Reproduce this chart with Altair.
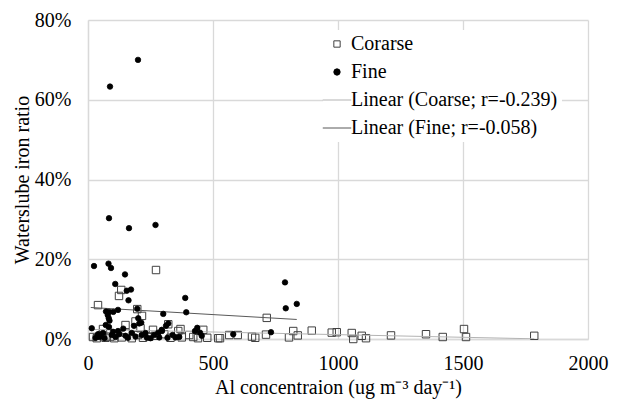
import altair as alt
import pandas as pd

# ---- data (x: Al concentration, y: ratio in %) ----
fine_x = [88, 200, 84, 164, 270, 24, 82, 92, 148, 109, 155, 172, 162, 389, 393, 301,
          788, 791, 835, 72, 84, 101, 120, 197, 79, 83, 201, 86, 205, 213, 321, 312,
          184, 71, 84, 15, 141, 437, 428, 448, 295, 281, 296, 40, 50, 60, 30, 45, 66,
          95, 110, 125, 150, 160, 175, 190, 215, 235, 250, 285, 318, 338, 350, 365,
          455, 581, 732, 100, 120, 230, 265]
fine_y = [63.3, 70.0, 30.3, 27.8, 28.6, 18.3, 18.9, 17.8, 16.2, 13.8, 12.1, 12.4, 9.7,
          10.3, 6.7, 6.3, 14.2, 7.7, 8.8, 6.9, 6.8, 6.8, 7.3, 7.6, 6.0, 5.2, 5.2, 4.6,
          3.9, 4.1, 3.9, 3.3, 3.3, 3.5, 3.0, 2.7, 2.6, 2.8, 2.0, 1.6, 2.3, 1.6, 2.0, 1.2,
          0.8, 1.5, 0.3, 0.5, 0.2, 1.0, 0.5, 1.2, 0.8, 0.3, 1.5, 0.6, 1.0, 0.4, 0.2, 0.4,
          0.3, 1.0, 0.4, 0.5, 0.8, 1.2, 1.7, 1.8, 2.0, 1.5, 1.0]

coarse_x = [272, 40, 133, 124, 197, 216, 190, 715, 260, 268, 321, 361, 405, 421, 461,
            477, 521, 528, 565, 599, 656, 669, 712, 821, 804, 839, 895, 975, 995, 1055,
            1061, 1095, 1112, 1212, 1352, 1419, 1504, 1512, 1785, 20, 35, 55, 70, 90,
            105, 135, 150, 175, 200, 220, 245, 305, 330, 375, 440, 60, 150, 210, 370]
coarse_y = [17.3, 8.5, 12.3, 10.8, 7.5, 5.8, 4.4, 5.3, 2.3, 0.8, 3.7, 2.0, 1.0, 0.5, 2.3,
            0.3, 0.2, 0.2, 1.0, 1.0, 0.6, 0.3, 1.1, 2.0, 0.4, 0.9, 2.1, 1.6, 1.7, 1.5,
            0.0, 0.8, 0.2, 0.9, 1.2, 0.5, 2.5, 0.5, 0.8, 0.5, 0.2, 1.0, 0.3, 0.6,
            0.2, 0.4, 1.6, 0.2, 1.0, 0.3, 0.6, 1.2, 0.3, 0.4, 0.2, 2.5, 3.5, 2.7, 2.5]

trend_coarse_x = [15, 1785]
trend_coarse_y = [2.4, 0.05]
trend_fine_x = [11, 835]
trend_fine_y = [7.9, 4.9]

series = ["Corarse", "Fine", "Linear (Coarse; r=-0.239)", "Linear (Fine; r=-0.058)"]
x_ticks = [0, 500, 1000, 1500, 2000]
y_ticks = [0, 0.2, 0.4, 0.6, 0.8]

FONT = "Liberation Serif"

# ---- tables ----
coarse_df = pd.DataFrame({"x": coarse_x, "y": [v / 100 for v in coarse_y], "series": series[0]})
fine_df = pd.DataFrame({"x": fine_x, "y": [v / 100 for v in fine_y], "series": series[1]})
trend_df = pd.concat([
    pd.DataFrame({"x": trend_coarse_x, "y": [v / 100 for v in trend_coarse_y], "series": series[2]}),
    pd.DataFrame({"x": trend_fine_x, "y": [v / 100 for v in trend_fine_y], "series": series[3]}),
])

line_path = "M-4.5,0H4.5"
shape_scale = alt.Scale(domain=series, range=["square", "circle", line_path, line_path])
fill_scale = alt.Scale(domain=series, range=["transparent", "black", "transparent", "transparent"])
stroke_scale = alt.Scale(domain=series, range=["#404040", "black", "#b3b3b3", "#595959"])
leg = alt.Legend(title=None)

x_enc = alt.X("x:Q", scale=alt.Scale(domain=[0, 2000], nice=False),
              axis=alt.Axis(values=x_ticks, format="d",
                            title="Al concentraion (ug m\u207b\u00b3 day\u207b\u00b9)",
                            labelPadding=14, titlePadding=4, labelFlush=False))
y_enc = alt.Y("y:Q", scale=alt.Scale(domain=[0, 0.8], nice=False),
              axis=alt.Axis(values=y_ticks, format=".0%", title="Waterslube iron ratio",
                            labelPadding=17, titlePadding=2, labelFlush=False))

coarse = alt.Chart(coarse_df).mark_point(size=55, strokeWidth=1, opacity=1).encode(
    x=x_enc, y=y_enc,
    shape=alt.Shape("series:N", scale=shape_scale, legend=leg),
    fill=alt.Fill("series:N", scale=fill_scale, legend=leg),
    stroke=alt.Stroke("series:N", scale=stroke_scale, legend=leg),
)
fine = alt.Chart(fine_df).mark_point(size=30, strokeWidth=0.8, opacity=1).encode(
    x=x_enc, y=y_enc,
    shape=alt.Shape("series:N", scale=shape_scale, legend=leg),
    fill=alt.Fill("series:N", scale=fill_scale, legend=leg),
    stroke=alt.Stroke("series:N", scale=stroke_scale, legend=leg),
)
trend = alt.Chart(trend_df).mark_line(strokeWidth=1, clip=True).encode(
    x=x_enc, y=y_enc,
    stroke=alt.Stroke("series:N", scale=stroke_scale, legend=leg),
)

chart = alt.layer(coarse, trend, fine).properties(
    width=500, height=319,
    autosize=alt.AutoSizeParams(type="none"),
    padding={"left": 88, "top": 20, "right": 32, "bottom": 62},
    background="white",
).configure_view(stroke=None).configure_axis(
    labelFont=FONT, labelFontSize=20, labelColor="black",
    titleFont=FONT, titleFontSize=20, titleFontWeight="normal", titleColor="black",
    gridColor="#d9d9d9", gridWidth=1.3, domainColor="#d9d9d9", domainWidth=1.3, ticks=False,
).configure_legend(
    orient="none", legendX=235, legendY=10,
    labelFont=FONT, labelFontSize=20, labelColor="black",
    symbolSize=40, symbolStrokeWidth=1, rowPadding=8, labelOffset=4,
    fillColor="white", padding=4, labelLimit=400,
)

chart.save("out.html", embed_options={"renderer": "svg", "actions": False})
